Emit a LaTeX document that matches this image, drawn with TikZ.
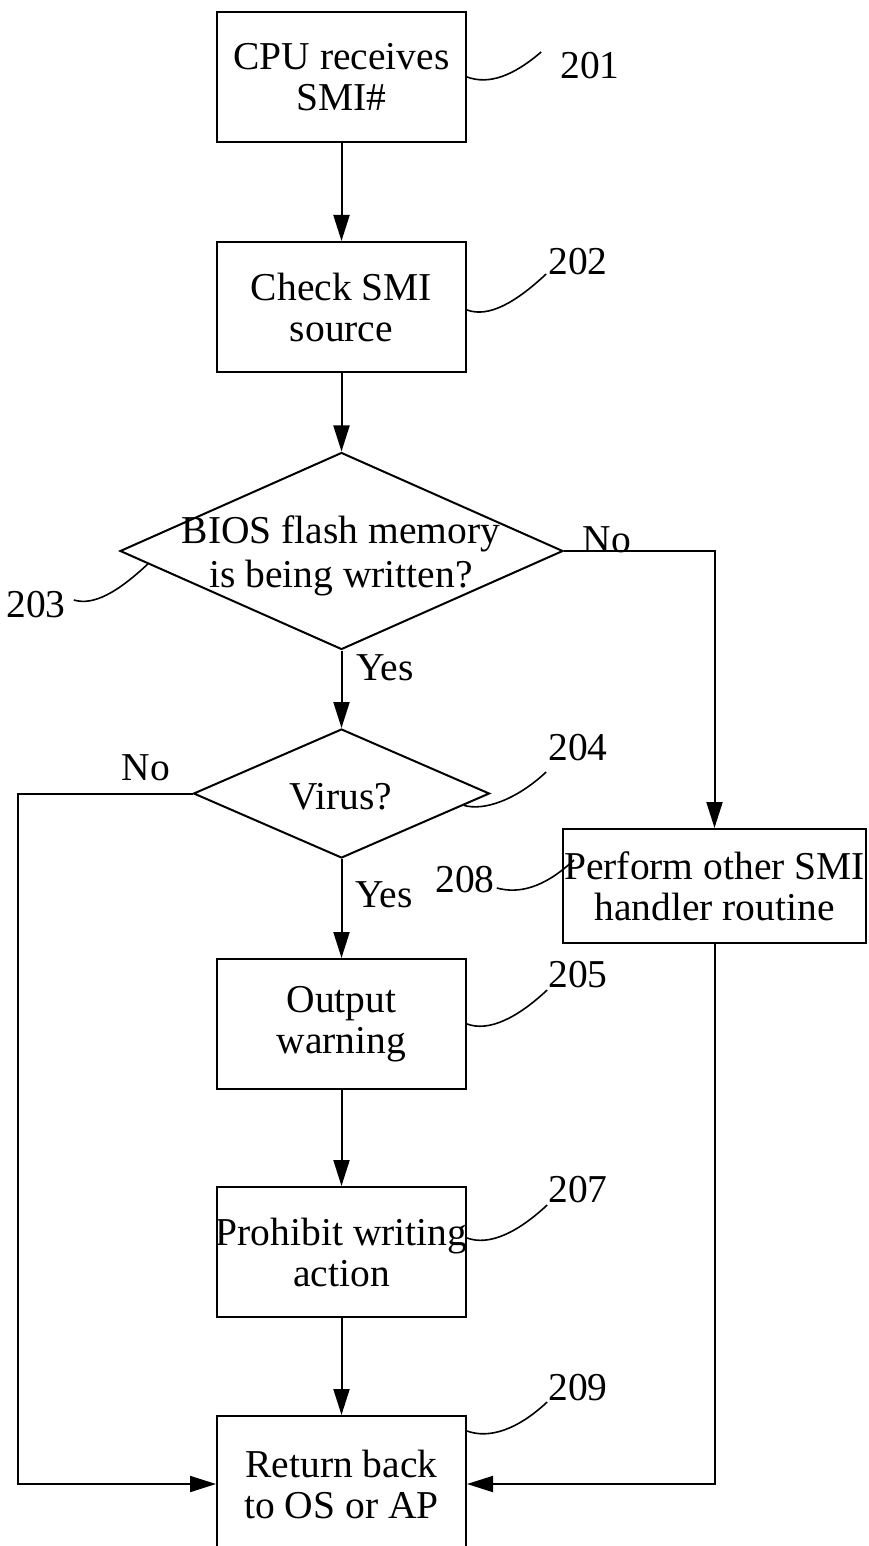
\documentclass[tikz,border=0pt]{standalone}
\usepackage{fontspec}
\setmainfont{Liberation Serif}
\usetikzlibrary{arrows.meta,shapes.geometric,calc}
\begin{document}
\begin{tikzpicture}[x=1pt,y=-1pt,
  box/.style={draw,line width=2pt,minimum width=249pt,minimum height=130pt,inner sep=0pt,align=center,font=\fontsize{39.5}{41}\selectfont},
  dia/.style={draw,line width=2pt,diamond,inner sep=0pt},
  txt/.style={inner sep=0pt,align=center,font=\fontsize{39.5}{44}\selectfont},
  arr/.style={line width=2pt,-{Triangle[length=26pt,width=16pt]}},
  lead/.style={line width=1.6pt}]
\useasboundingbox (0,0) rectangle (868,1546);
\clip (0,0) rectangle (868,1546);
% boxes and decisions
\node[box] (b201) at (341.5,77) {CPU receives\\SMI\#};
\node[box] (b202) at (341.5,307) {Check SMI\\source};
\node[dia,minimum width=443pt,minimum height=197pt] (d203) at (341.5,551) {};
\node[txt] (t203) at (341,556) {BIOS flash memory\\is being written?};
\node[dia,minimum width=296pt,minimum height=129pt] (d204) at (341.5,793.5) {};
\node[txt] (t204) at (341,797) {Virus?};
\node[box] (b205) at (341.5,1024) {Output\\warning};
\node[box] (b207) at (341.5,1252) {\makebox[240pt]{Prohibit writing}\\action};
\node[box,minimum height=136pt] (b209) at (341.5,1484) {Return back\\to OS or AP};
\node[box,minimum width=303pt,minimum height=114pt] (b208) at (714.5,886) {Perform other SMI\\handler routine};
% branch labels
\node[txt] (no1) at (607,540) {No};
\node[txt] (yes1) at (385,668) {Yes};
\node[txt] (no2) at (146,768) {No};
\node[txt] (yes2) at (384,895) {Yes};
% reference numerals
\node[txt] (l201) at (590,66) {201};
\node[txt] (l202) at (578,262) {202};
\node[txt] (l203) at (36,605) {203};
\node[txt] (l204) at (578,748) {204};
\node[txt] (l208) at (465,880) {208};
\node[txt] (l205) at (578,975) {205};
\node[txt] (l207) at (578,1190) {207};
\node[txt] (l209) at (578,1388) {209};
\coordinate (cL) at (18,0);
% connectors
\draw[arr] (b201) -- (b202);
\draw[arr] (b202) -- (d203);
\draw[arr] (d203) -- (d204);
\draw[arr] (d204) -- (b205);
\draw[arr] (b205) -- (b207);
\draw[arr] (b207) -- (b209);
\draw[arr] (d203.east) -| (b208.north);
\draw[arr] (d204.west) -- (d204.west -| cL) |- (b209.west);
\draw[arr] (b208.south) |- (b209.east);
% leader curves
\draw[lead] ($(b201.east)+(0,0)$) .. controls +(22,8) and +(-28,24) .. ($(l201.west)+(-19,-14)$);
\draw[lead] ($(b202.east)+(0,3)$) .. controls +(22,8) and +(-30,28) .. ($(l202.west)+(-2,12)$);
\draw[lead] ($(l203.east)+(8,-5)$) .. controls +(20,6) and +(-30,28) .. ($(d203.west)!0.13!(d203.south)$);
\draw[lead] ($(d204.east)!0.18!(d204.south)$) .. controls +(20,6) and +(-30,28) .. ($(l204.west)+(-2,24)$);
\draw[lead] ($(l208.east)+(2,8)$) .. controls +(22,6) and +(-30,28) .. ($(b208.west)+(12,-26)$);
\draw[lead] ($(b205.east)+(0,0)$) .. controls +(22,8) and +(-30,28) .. ($(l205.west)+(-1,15)$);
\draw[lead] ($(b207.east)+(0,-14)$) .. controls +(22,8) and +(-30,28) .. ($(l207.west)+(-1,15)$);
\draw[lead] ($(b209.north east)+(0,16)$) .. controls +(22,8) and +(-30,28) .. ($(l209.west)+(-1,14)$);
\end{tikzpicture}
\end{document}
